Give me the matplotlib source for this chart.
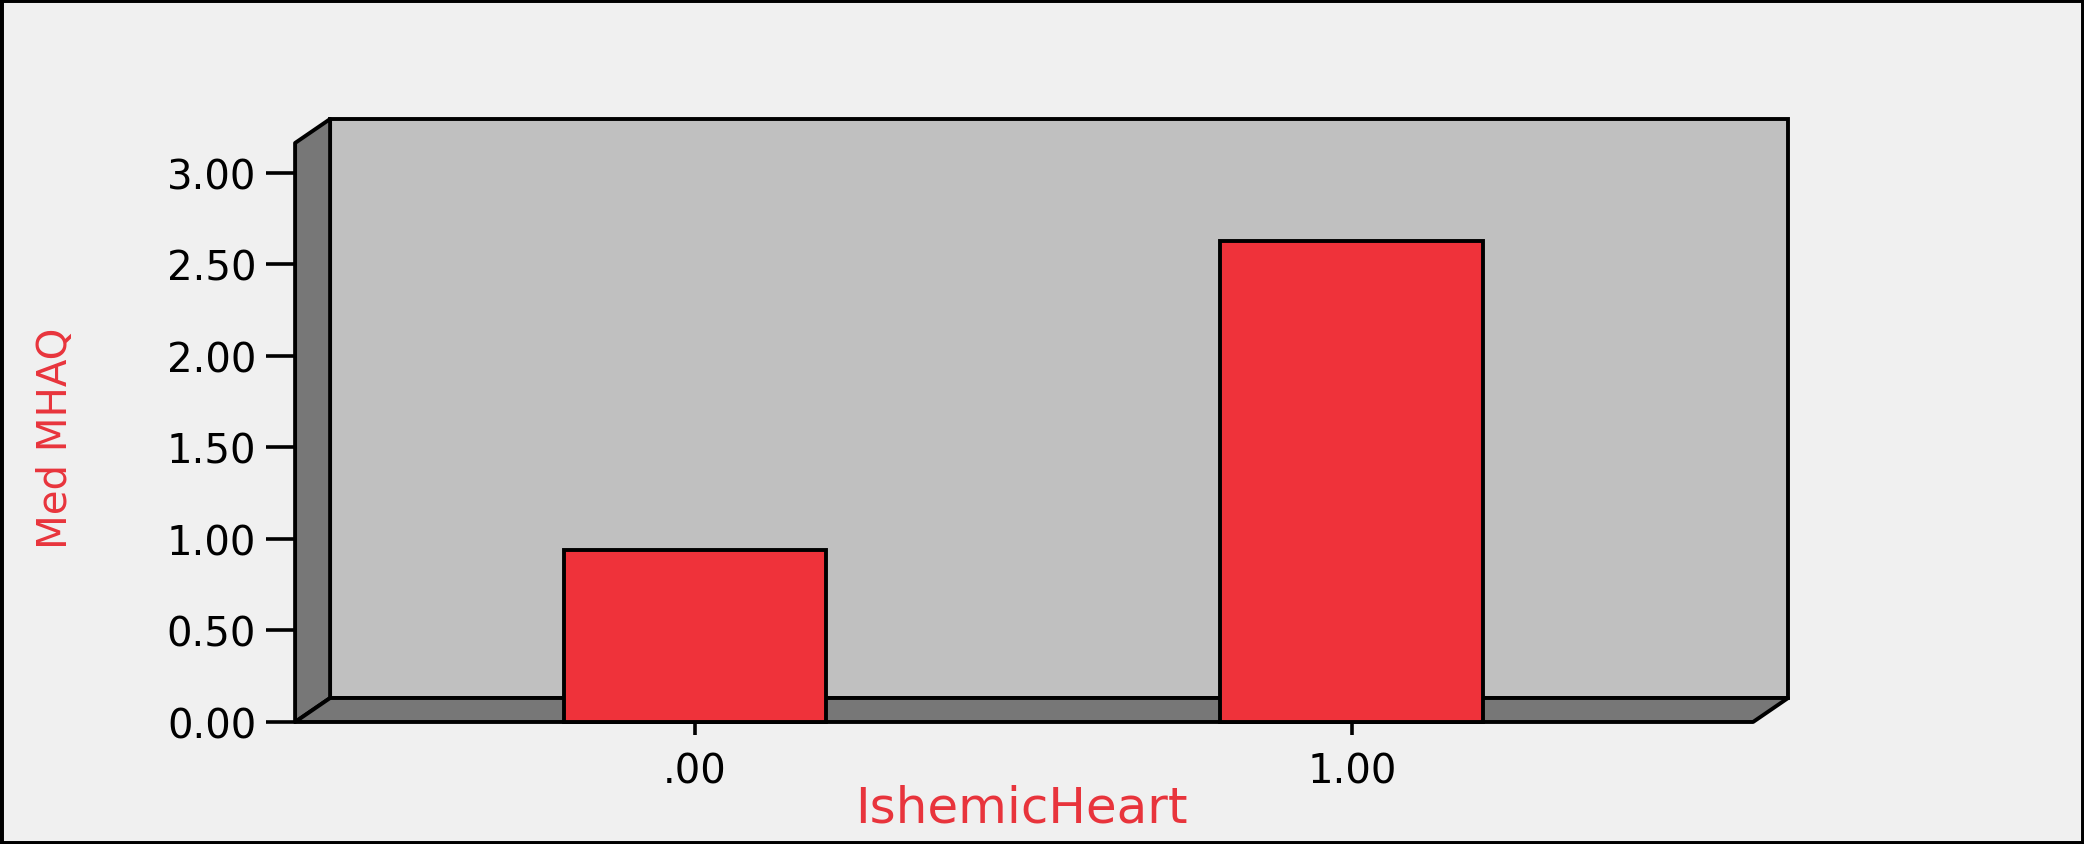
import numpy as np
import matplotlib
matplotlib.use('Agg')
import matplotlib.pyplot as plt
from matplotlib.patches import Polygon, Rectangle

# data
categories = ['.00', '1.00']
medians = [0.94, 2.63]
y_ticks = [0.0, 0.5, 1.0, 1.5, 2.0, 2.5, 3.0]
y_tick_labels = ['0.00', '0.50', '1.00', '1.50', '2.00', '2.50', '3.00']

# colours
bg = '#f0f0f0'
wall = '#c0c0c0'
side = '#777777'
bar_red = '#ef323a'
label_red = '#e8343c'

xmin, xmax = -0.609, 1.611
ymin, ymax = 0.0, 3.164
dx, dy = 0.0533, 0.131   # depth offset of the fake 3D box

fig = plt.figure(figsize=(20.84, 8.45), dpi=100, facecolor=bg)
ax = fig.add_axes([0.1416, 0.1444, 0.6996, 0.6852])
ax.set_facecolor('none')
ax.set_xlim(xmin, xmax)
ax.set_ylim(ymin, ymax)
for s in ax.spines.values():
    s.set_visible(False)

lw = 2.8
# back wall
ax.add_patch(Rectangle((xmin + dx, dy), xmax - xmin, ymax - ymin, facecolor=wall,
                       edgecolor='black', lw=lw, clip_on=False, zorder=1))
# left side wall
ax.add_patch(Polygon([(xmin, 0), (xmin, ymax), (xmin + dx, ymax + dy), (xmin + dx, dy)],
                     closed=True, facecolor=side, edgecolor='black', lw=lw,
                     clip_on=False, zorder=2, joinstyle='round'))
# floor
ax.add_patch(Polygon([(xmin, 0), (xmax, 0), (xmax + dx, dy), (xmin + dx, dy)],
                     closed=True, facecolor=side, edgecolor='black', lw=lw,
                     clip_on=False, zorder=2, joinstyle='round'))

x = np.arange(len(categories))
ax.bar(x, medians, width=0.4, color=bar_red, edgecolor='black', linewidth=lw,
       zorder=5, clip_on=False)

tick_font = {'family': 'DejaVu Sans', 'size': 29, 'color': 'black'}
ax.set_yticks(y_ticks)
ax.set_yticklabels(y_tick_labels, fontdict=tick_font)
ax.set_xticks(x)
ax.set_xticklabels(categories, fontdict=tick_font)
ax.tick_params(axis='y', direction='out', length=21, width=2.6, pad=7, color='black')
ax.tick_params(axis='x', direction='out', length=9, width=2.6, pad=12, color='black')

ax.set_xlabel('IshemicHeart', fontsize=36, color=label_red, family='DejaVu Sans')
ax.xaxis.set_label_coords(0.498, -0.147)
ax.xaxis.label.set_va('center')

ax.set_ylabel('Med MHAQ', fontsize=29, color=label_red,
              family=['DejaVu Sans Condensed', 'DejaVu Sans'])
ax.yaxis.set_label_coords(-0.164, 0.492)
ax.yaxis.label.set_va('center')
ax.yaxis.label.set_ha('center')

# outer frame
fig.patches.append(Rectangle((0, 0), 1, 1, transform=fig.transFigure, fill=False,
                             edgecolor='black', lw=5, zorder=10))

fig.savefig('out.png', dpi=100, facecolor=bg)
